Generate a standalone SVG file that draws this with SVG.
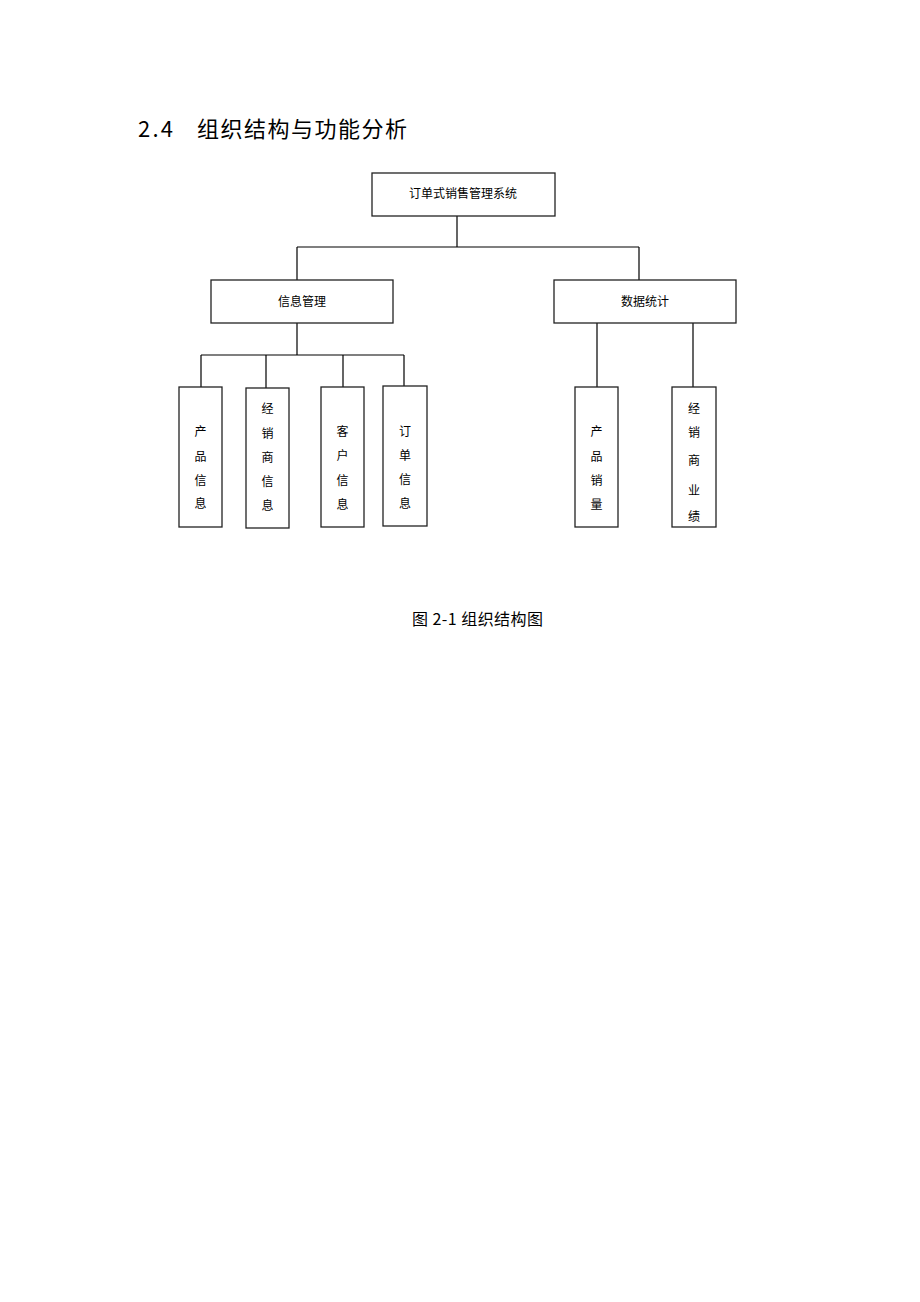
<svg xmlns="http://www.w3.org/2000/svg" width="920" height="1302" viewBox="0 0 920 1302">
<style>
.box{fill:#fff;stroke:#222;stroke-width:1.3}
.ln{fill:none;stroke:#000;stroke-width:1.2}
.t{font-family:"Noto Sans CJK SC","Liberation Sans",sans-serif;font-size:12px;fill:#000;text-anchor:middle;dominant-baseline:central}
.h{font-family:"Noto Sans CJK SC","Liberation Sans",sans-serif;fill:#000}
</style>
<rect width="920" height="1302" fill="#fff"/>
<text class="h" x="138" y="137" font-size="22" textLength="35" lengthAdjust="spacing">2.4</text>
<text class="h" x="197" y="137" font-size="22" textLength="210" lengthAdjust="spacing">组织结构与功能分析</text>
<g id="connectors">
<path class="ln" d="M457 216V247M297 247H639M297 247V280M639 247V280"/>
<path class="ln" d="M297 323V355M201 355H404M201 355V387M266 355V388M343 355V387M404 355V386"/>
<path class="ln" d="M597 323V387M693 323V387"/>
</g>
<g id="root"><rect class="box" x="372" y="173" width="183" height="43"/><text class="t" x="463" y="192">订单式销售管理系统</text></g>
<g id="info"><rect class="box" x="211" y="280" width="182" height="43"/><text class="t" x="302" y="300">信息管理</text></g>
<g id="stat"><rect class="box" x="554" y="280" width="182" height="43"/><text class="t" x="645" y="300">数据统计</text></g>
<g id="n1"><rect class="box" x="179" y="387" width="43" height="140"/><text class="t" x="200.5" y="430">产</text><text class="t" x="200.5" y="455">品</text><text class="t" x="200.5" y="479">信</text><text class="t" x="200.5" y="502">息</text></g>
<g id="n2"><rect class="box" x="246" y="388" width="43" height="140"/><text class="t" x="267.5" y="407">经</text><text class="t" x="267.5" y="432">销</text><text class="t" x="267.5" y="456">商</text><text class="t" x="267.5" y="480">信</text><text class="t" x="267.5" y="504">息</text></g>
<g id="n3"><rect class="box" x="321" y="387" width="43" height="140"/><text class="t" x="342.5" y="430">客</text><text class="t" x="342.5" y="454">户</text><text class="t" x="342.5" y="479">信</text><text class="t" x="342.5" y="503">息</text></g>
<g id="n4"><rect class="box" x="383" y="386" width="44" height="140"/><text class="t" x="405" y="430">订</text><text class="t" x="405" y="454">单</text><text class="t" x="405" y="478">信</text><text class="t" x="405" y="502">息</text></g>
<g id="n5"><rect class="box" x="575" y="387" width="43" height="140"/><text class="t" x="596.5" y="430">产</text><text class="t" x="596.5" y="455">品</text><text class="t" x="596.5" y="479">销</text><text class="t" x="596.5" y="503">量</text></g>
<g id="n6"><rect class="box" x="672" y="387" width="44" height="140"/><text class="t" x="694" y="407">经</text><text class="t" x="694" y="431">销</text><text class="t" x="694" y="459">商</text><text class="t" x="694" y="489">业</text><text class="t" x="694" y="515">绩</text></g>
<text class="h" x="412" y="625" font-size="16" textLength="131" lengthAdjust="spacing">图 2-1 组织结构图</text>
</svg>
